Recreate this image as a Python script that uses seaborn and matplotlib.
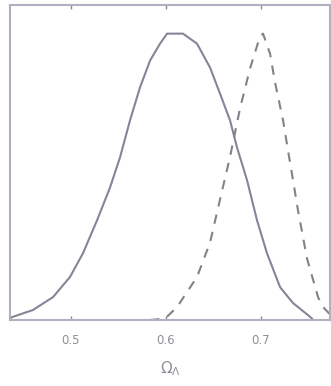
import numpy as np
import pandas as pd
import matplotlib
matplotlib.use("Agg")
import matplotlib.pyplot as plt
import seaborn as sns

# Marginalised likelihood curves for Omega_Lambda
omega_solid = [0.4358, 0.4379, 0.4600, 0.4811, 0.4989, 0.5126, 0.5274, 0.5411,
               0.5516, 0.5621, 0.5726, 0.5832, 0.5937, 0.6011, 0.6179, 0.6326,
               0.6463, 0.6568, 0.6674, 0.6747, 0.6853, 0.6958, 0.7063, 0.7200,
               0.7337, 0.7495, 0.7540]
like_solid = [0.005, 0.010, 0.035, 0.080, 0.150, 0.233, 0.348, 0.463,
              0.568, 0.697, 0.812, 0.906, 0.965, 1.0, 1.0, 0.965,
              0.882, 0.791, 0.697, 0.603, 0.488, 0.348, 0.233, 0.115,
              0.059, 0.017, 0.004]

omega_dashed = [0.5832, 0.5990, 0.6116, 0.6326, 0.6463, 0.6568, 0.6674, 0.6779,
                0.6884, 0.6989, 0.7021, 0.7095, 0.7147, 0.7232, 0.7284, 0.7337,
                0.7389, 0.7484, 0.7600, 0.7653, 0.7726]
like_dashed = [0.0, 0.005, 0.045, 0.150, 0.270, 0.420, 0.570, 0.739,
               0.878, 0.990, 1.0, 0.930, 0.830, 0.697, 0.592, 0.488,
               0.383, 0.215, 0.080, 0.045, 0.020]

xticks = [0.5, 0.6, 0.7]
xticklabels = ["0.5", "0.6", "0.7"]

df = pd.concat([
    pd.DataFrame({"omega": omega_solid, "L": like_solid, "set": "a"}),
    pd.DataFrame({"omega": omega_dashed, "L": like_dashed, "set": "b"}),
])

sns.set_theme(style="white")
plt.rcParams["font.family"] = ["DejaVu Sans"]

fig = plt.figure(figsize=(3.31, 3.86), dpi=100)
ax = fig.add_axes([10 / 331, 1 - 320 / 386, 320 / 331, 315 / 386])

sns.lineplot(data=df, x="omega", y="L", hue="set", style="set",
             palette={"a": "#8a8296", "b": "#85808a"},
             dashes={"a": "", "b": (4.5, 4)},
             sort=False, estimator=None, linewidth=1.5, legend=False, ax=ax)

ax.set_xlim(0.4358, 0.7726)
ax.set_ylim(0, 1.1)
ax.set_xticks(xticks)
ax.set_xticklabels(xticklabels)
ax.set_yticks([])
ax.tick_params(axis="x", direction="in", length=3, width=1, color="#8a8a95",
               top=True, bottom=True, labelsize=8.5, labelcolor="#8e8e96", pad=10)
ax.set_xlabel(r"$\Omega_\Lambda$", fontsize=11, color="#8e8e96", labelpad=9)
ax.set_ylabel("")
for s in ax.spines.values():
    s.set_visible(True)
    s.set_color("#b4aec0")
    s.set_linewidth(1.5)

fig.savefig("out.png", dpi=100)
